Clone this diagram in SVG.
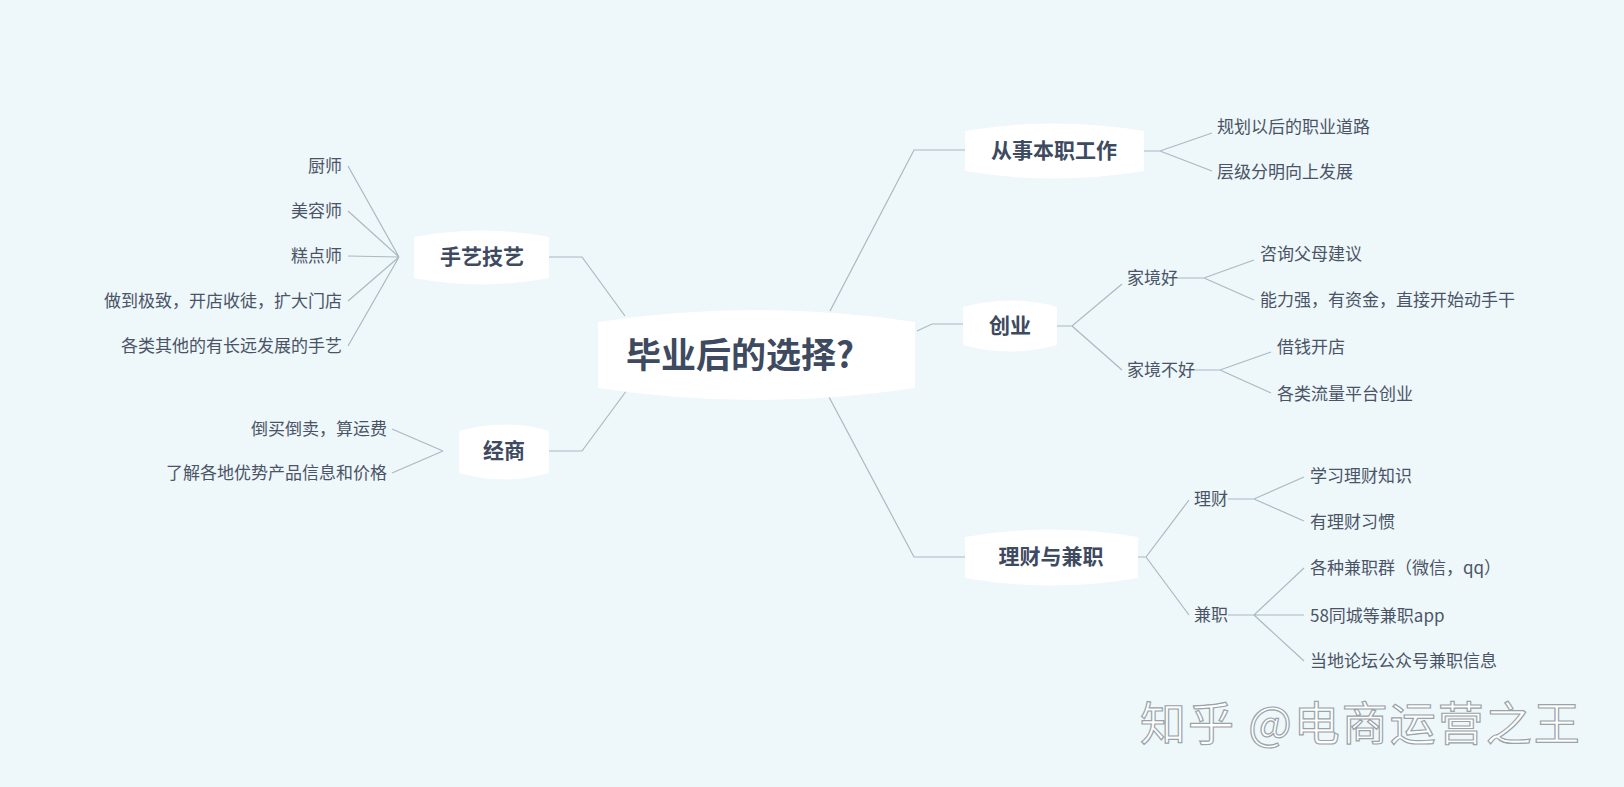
<svg xmlns="http://www.w3.org/2000/svg" width="1624" height="787" viewBox="0 0 1624 787">
<style>
.n{fill:#fff}
.t{font-family:"Noto Sans CJK SC","Noto Sans",sans-serif;fill:#3d4a60}
.m{font-size:21px;font-weight:bold;text-anchor:middle}
.l{font-size:17px;fill:#4a5466}
.r{text-anchor:end}
.c path{fill:none;stroke:#a9bac3;stroke-width:1.2}
</style>
<rect width="1624" height="787" fill="#eef7fa"/>
<g class="c">
<path d="M830 311 L914 150 L965 150"/>
<path d="M917 331 L932 324 L963 324"/>
<path d="M829 397 L914 557 L965 557"/>
<path d="M625 316 L582 257 L549 257"/>
<path d="M627 390 L582 451 L549 451"/>
<path d="M1144 151 L1160 151 L1212 133 M1160 151 L1212 171"/>
<path d="M1057 326 L1072 326 L1122 284 M1072 326 L1122 370"/>
<path d="M1168 278 L1204 278 L1254 260 M1204 278 L1254 300"/>
<path d="M1184 370 L1220 370 L1271 352 M1220 370 L1271 393"/>
<path d="M1138 557 L1146 557 L1189 500 M1146 557 L1189 615"/>
<path d="M1228 499 L1254 499 L1304 477 M1254 499 L1304 521"/>
<path d="M1228 615 L1254 615 L1304 568 M1254 615 L1304 615 M1254 615 L1304 661"/>
<path d="M399 257 L348 166 M399 257 L348 211 M399 257 L348 256 M399 257 L348 301 M399 257 L348 346"/>
<path d="M443 451 L392 429 M443 451 L392 473"/>
</g>
<g id="center"><path class="n" d="M598 322 Q756 298 915 322 L915 388 Q756 412 598 388 Z"/><text class="t" x="740" y="368" font-size="35" font-weight="bold" text-anchor="middle">毕业后的选择?</text></g>
<g id="n1"><path class="n" d="M965 131 Q1054 116 1144 131 L1144 171 Q1054 186 965 171 Z"/><text class="t m" x="1054" y="158">从事本职工作</text></g>
<g id="n2"><path class="n" d="M963 307 Q1010 294 1057 307 L1057 345 Q1010 358 963 345 Z"/><text class="t m" x="1010" y="333">创业</text></g>
<g id="n3"><path class="n" d="M965 537 Q1051 522 1138 537 L1138 578 Q1051 593 965 578 Z"/><text class="t m" x="1051" y="564">理财与兼职</text></g>
<g id="n4"><path class="n" d="M414 237 Q482 224 549 237 L549 278 Q482 291 414 278 Z"/><text class="t m" x="482" y="264">手艺技艺</text></g>
<g id="n5"><path class="n" d="M459 431 Q504 418 549 431 L549 473 Q504 486 459 473 Z"/><text class="t m" x="504" y="458">经商</text></g>
<g id="leaves">
<text class="t l" x="1217" y="133">规划以后的职业道路</text>
<text class="t l" x="1217" y="178">层级分明向上发展</text>
<text class="t l" x="1127" y="284">家境好</text>
<text class="t l" x="1127" y="376">家境不好</text>
<text class="t l" x="1260" y="260">咨询父母建议</text>
<text class="t l" x="1260" y="306">能力强，有资金，直接开始动手干</text>
<text class="t l" x="1277" y="353">借钱开店</text>
<text class="t l" x="1277" y="400">各类流量平台创业</text>
<text class="t l" x="1194" y="505">理财</text>
<text class="t l" x="1194" y="621">兼职</text>
<text class="t l" x="1310" y="482">学习理财知识</text>
<text class="t l" x="1310" y="528">有理财习惯</text>
<text class="t l" x="1310" y="574">各种兼职群（微信，qq）</text>
<text class="t l" x="1310" y="622">58同城等兼职app</text>
<text class="t l" x="1310" y="667">当地论坛公众号兼职信息</text>
<text class="t l r" x="342" y="172">厨师</text>
<text class="t l r" x="342" y="217">美容师</text>
<text class="t l r" x="342" y="262">糕点师</text>
<text class="t l r" x="342" y="307">做到极致，开店收徒，扩大门店</text>
<text class="t l r" x="342" y="352">各类其他的有长远发展的手艺</text>
<text class="t l r" x="387" y="435">倒买倒卖，算运费</text>
<text class="t l r" x="387" y="479">了解各地优势产品信息和价格</text>
</g>
<text x="1140" y="740" font-family="Noto Sans CJK SC,sans-serif" font-size="46" fill="#fff" stroke="#9aa3a8" stroke-width="1.2" letter-spacing="2">知乎 @电商运营之王</text>
</svg>
